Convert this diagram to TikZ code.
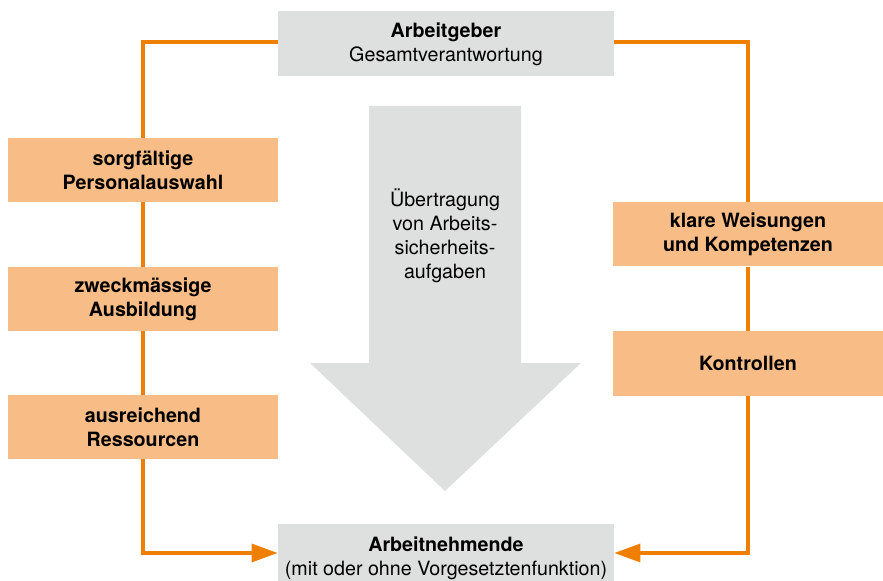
\documentclass[tikz,border=0pt]{standalone}
\usepackage{fontspec}
\setmainfont{TeX Gyre Heros}
\usetikzlibrary{arrows.meta}
\definecolor{line-orange}{HTML}{EE7F00}
\definecolor{box-peach}{HTML}{F8BD87}
\definecolor{box-grey}{HTML}{DEDFDF}

\begin{document}
\begin{tikzpicture}[
    every node/.style={font=\fontsize{14}{17}\selectfont, align=center},
    greybox/.style={fill=box-grey, minimum width=8.4cm},
    peachbox/.style={fill=box-peach, minimum width=6.75cm, minimum height=1.6cm},
    flow/.style={draw=line-orange, line width=2.2pt},
    flowtip/.style={flow, -{Triangle[length=0.65cm,width=0.45cm]}}]
    \useasboundingbox (0,0) rectangle (22.075,-14.525);
    % big arrow in the middle
    \fill[box-grey] (9.225,-2.65) -- (13.025,-2.65) -- (13.025,-9.075) -- (14.525,-9.075)
      -- (11.125,-12.275) -- (7.75,-9.075) -- (9.225,-9.075) -- cycle;
    \node (task) at (11.125,-5.9) {Übertragung\\von Arbeits-\\sicherheits-\\aufgaben};
    \node[greybox, minimum height=1.625cm] (employer) at (11.15,-1.1)
          {\textbf{Arbeitgeber}\\Gesamtverantwortung};
    \node[greybox, minimum height=1.7cm] (employee) at (11.15,-13.95)
          {\textbf{Arbeitnehmende}\\(mit oder ohne Vorgesetztenfunktion)};
    \node[peachbox] (select) at (3.575,-4.25) {\textbf{sorgfältige}\\\textbf{Personalauswahl}};
    \node[peachbox] (train) at (3.575,-7.475) {\textbf{zweckmässige}\\\textbf{Ausbildung}};
    \node[peachbox] (means) at (3.575,-10.675) {\textbf{ausreichend}\\\textbf{Ressourcen}};
    \node[peachbox] (orders) at (18.7,-5.8625) {\textbf{klare Weisungen}\\\textbf{und Kompetenzen}};
    \node[peachbox] (checks) at (18.7,-9.0875) {\textbf{Kontrollen}};
    % left chain
    \draw[flow] (employer.west) ++(0,0.05) -| (select.north);
    \draw[flow] (select.south) -- (train.north);
    \draw[flow] (train.south) -- (means.north);
    \draw[flowtip] (means.south) |- ([yshift=0.125cm]employee.west);
    % right chain
    \draw[flow] (employer.east) ++(0,0.05) -| (orders.north);
    \draw[flow] (orders.south) -- (checks.north);
    \draw[flowtip] (checks.south) |- ([yshift=0.125cm]employee.east);
\end{tikzpicture}
\end{document}
